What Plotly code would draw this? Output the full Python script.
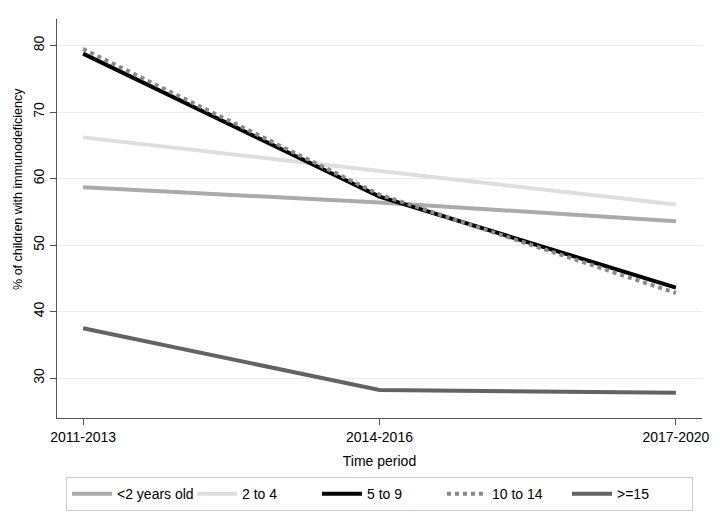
import plotly.graph_objects as go

periods = ["2011-2013", "2014-2016", "2017-2020"]
series_names = ["<2 years old", "2 to 4", "5 to 9", "10 to 14", ">=15"]
under2 = [58.7, 56.4, 53.6]
age2to4 = [66.2, 61.1, 56.1]
age5to9 = [78.8, 57.3, 43.6]
age10to14 = [79.5, 57.6, 42.8]
age15plus = [37.5, 28.2, 27.8]
y_ticks = [30, 40, 50, 60, 70, 80]

values = [under2, age2to4, age5to9, age10to14, age15plus]
colors = ["#aaaaaa", "#dedede", "#000000", "#8a8a8a", "#636363"]
dashes = ["solid", "solid", "solid", "dot", "solid"]

fig = go.Figure()
for name, vals, col, dash in zip(series_names, values, colors, dashes):
    fig.add_trace(go.Scatter(
        x=periods, y=vals, mode="lines", name=name,
        line=dict(color=col, width=4, dash=dash),
    ))

font_family = "Liberation Sans, Arial, Helvetica, sans-serif"
fig.update_layout(
    width=720, height=523,
    margin=dict(l=57, r=18, t=19, b=105, autoexpand=False),
    paper_bgcolor="white", plot_bgcolor="white",
    font=dict(family=font_family, size=14, color="#000000"),
    showlegend=True,
    legend=dict(
        orientation="h", x=0.5, xanchor="center", y=-0.148, yanchor="top",
        bordercolor="#cccccc", borderwidth=1, font=dict(size=14),
        entrywidth=70, entrywidthmode="pixels", itemwidth=40,
    ),
    xaxis=dict(
        type="category", range=[-0.088, 2.088], automargin=False,
        showline=True, linecolor="#555555", linewidth=1,
        ticks="outside", ticklen=6, tickcolor="#555555",
        showgrid=False, zeroline=False,
        title=dict(text="Time period", font=dict(size=14), standoff=12),
        tickfont=dict(size=14),
    ),
    yaxis=dict(
        range=[24.0, 84.0], tickvals=y_ticks, automargin=False,
        showline=True, linecolor="#555555", linewidth=1,
        ticks="outside", ticklen=6, tickcolor="#555555",
        tickangle=-90,
        showgrid=True, gridcolor="#e6eef0", gridwidth=1, zeroline=False,
        tickfont=dict(size=14),
    ),
    annotations=[dict(
        text="% of children with immunodeficiency",
        xref="paper", yref="paper", x=-0.0605, y=0.574,
        xanchor="center", yanchor="middle", textangle=-90,
        showarrow=False, font=dict(size=12.5),
    )],
)

fig.write_html("out.html", config={"displayModeBar": False},
               post_script="document.body.style.margin='0';")
